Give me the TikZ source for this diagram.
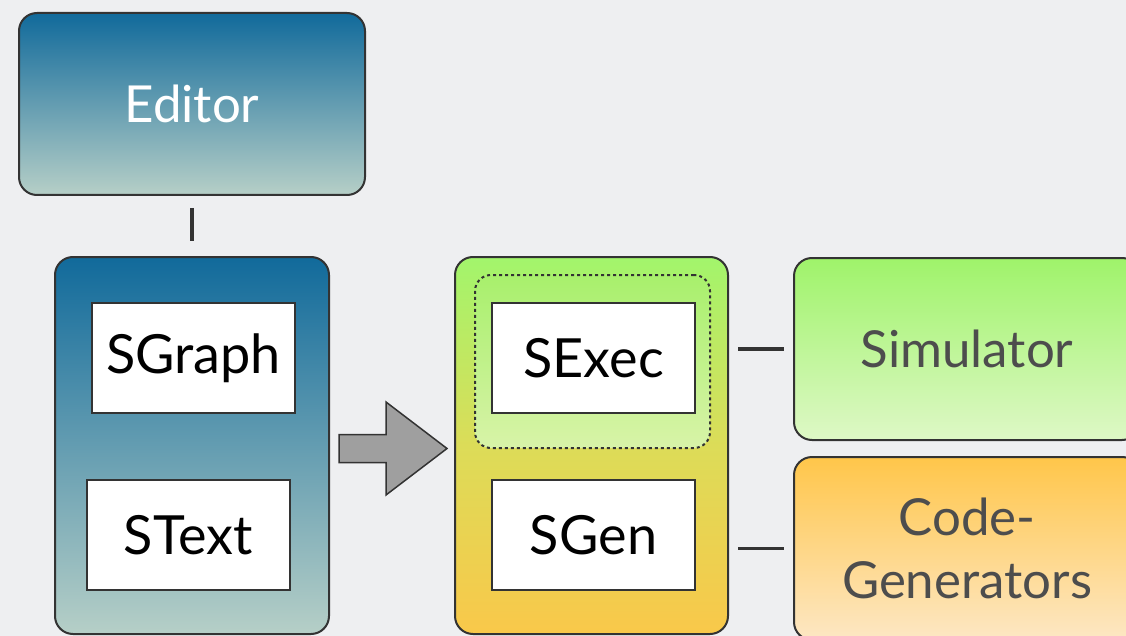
\documentclass[tikz,border=0pt]{standalone}
\usepackage{fontspec}
\setmainfont{Lato}
\usetikzlibrary{calc}
\definecolor{bgc}{HTML}{EEEFF1}
\definecolor{bluetop}{HTML}{116A9B}
\definecolor{bluebot}{HTML}{B6CFC7}
\definecolor{greentop}{HTML}{A2F56C}
\definecolor{yelmid}{HTML}{DCDC58}
\definecolor{orbot}{HTML}{F9C84A}
\definecolor{dottop}{HTML}{A8F06C}
\definecolor{dotbot}{HTML}{D8F3A8}
\definecolor{simtop}{HTML}{9FF36A}
\definecolor{simbot}{HTML}{DEF8C6}
\definecolor{codetop}{HTML}{FFC64A}
\definecolor{codebot}{HTML}{FDE7C4}
\definecolor{edge}{HTML}{333333}
\definecolor{txtgray}{HTML}{4D4D4D}
\tikzset{
  bigbox/.style={draw=edge, line width=2pt, rounded corners=18pt, inner sep=0pt},
  bluebox/.style={bigbox, top color=bluetop, bottom color=bluebot},
  innerbox/.style={draw=edge, line width=2pt, fill=white, minimum width=203pt, minimum height=110pt, inner sep=0pt, font=\fontsize{54}{60}\selectfont},
  conn/.style={draw=edge, line width=3.5pt},
}
\begin{document}
\begin{tikzpicture}[x=1pt,y=-1pt]
\useasboundingbox (0,0) rectangle (1126,636);
\fill[bgc] (0,0) rectangle (1126,636);
\clip (0,0) rectangle (1126,636);
% Editor
\node[bluebox, minimum width=346pt, minimum height=182pt, text=white, font=\fontsize{51}{58}\selectfont] (editor) at (192,104) {Editor};
% left container
\node[bluebox, minimum width=274pt, minimum height=377pt] (lbox) at (192,445.5) {};
\node[innerbox] (sgraph) at (193.5,358) {SGraph};
\node[innerbox] (stext) at (188.5,535) {SText};
% middle container
\node[bigbox, minimum width=273pt, minimum height=377pt, top color=greentop, bottom color=orbot, middle color=yelmid] (mid) at (591.5,445.5) {};
\node[draw=edge, line width=2pt, dash pattern=on 3pt off 3pt, rounded corners=16pt, top color=dottop, bottom color=dotbot, minimum width=235pt, minimum height=173pt, inner sep=0pt] (dotbox) at (592.5,361.5) {};
\node[innerbox] (sexec) at (593.5,358) {SExec};
\node[innerbox] (sgen) at (593.5,535) {SGen};
% right boxes
\node[bigbox, top color=simtop, bottom color=simbot, minimum width=346pt, minimum height=182pt, text=txtgray, font=\fontsize{51}{58}\selectfont] (sim) at (967,349) {Simulator};
\node[bigbox, top color=codetop, bottom color=codebot, minimum width=346pt, minimum height=183pt, text=txtgray, align=center, font=\fontsize{51}{63}\selectfont] (code) at (967,548.5) {Code-\\Generators};
% connectors
\draw[conn, shorten <=12pt, shorten >=15pt] (editor.south) -- (lbox.north);
\draw[conn, shorten <=9pt, shorten >=9pt] (mid.east |- sim.west) -- (sim.west);
\draw[conn, shorten <=9pt, shorten >=9pt] (mid.east |- code.west) -- (code.west);
% block arrow
\coordinate (as) at ($(lbox.east)+(9,3)$);
\coordinate (at) at ($(mid.west)+(-7,3)$);
\filldraw[fill=gray!75, draw=edge, line width=1.5pt]
  ($(as)+(0,-14)$) -- ($(as)+(47,-14)$) -- ($(as)+(47,-46.5)$) -- (at)
  -- ($(as)+(47,46.5)$) -- ($(as)+(47,14)$) -- ($(as)+(0,14)$) -- cycle;
\end{tikzpicture}
\end{document}
